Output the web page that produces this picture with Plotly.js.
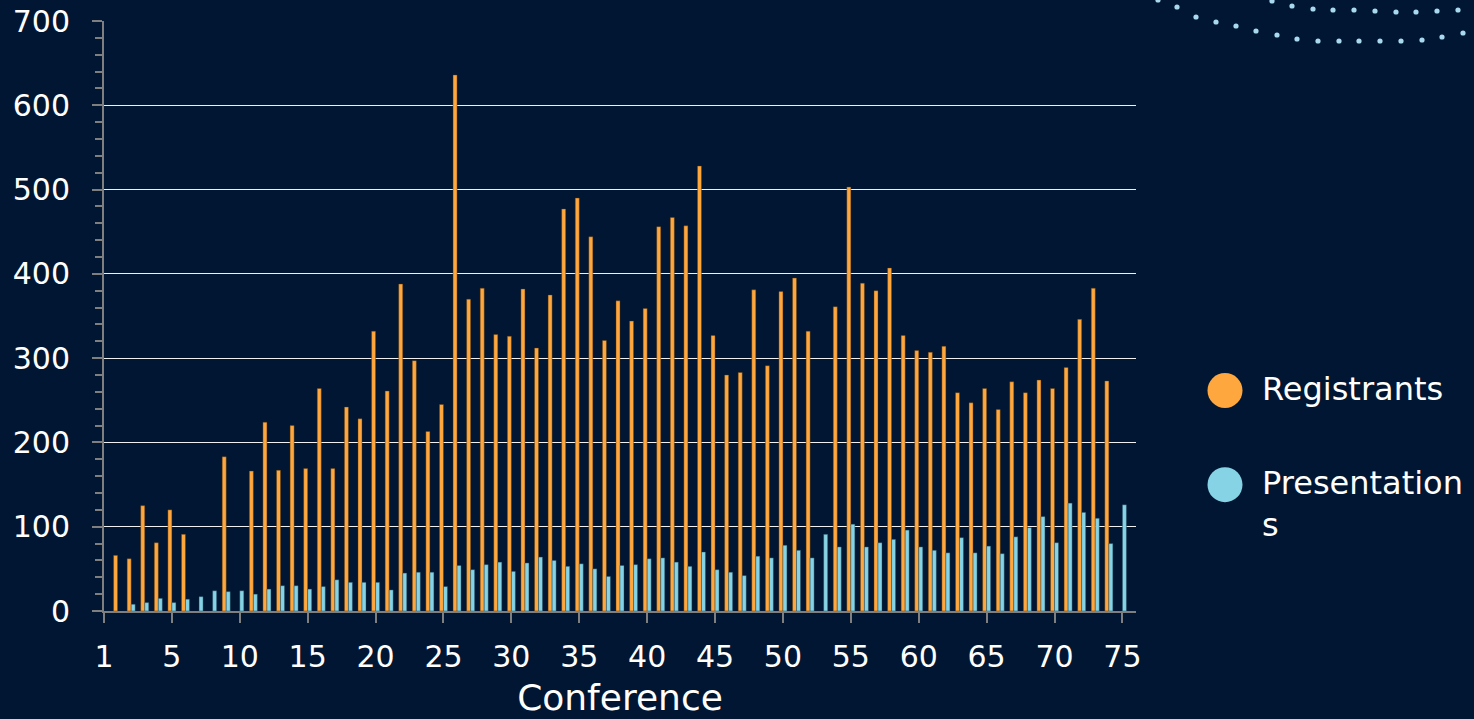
<!DOCTYPE html>
<html>
<head>
<meta charset="utf-8">
<script src="https://cdn.plot.ly/plotly-3.0.1.min.js"></script>
<style>
html,body{margin:0;padding:0;background:#011632;}
#chart{width:1474px;height:719px;}
</style>
</head>
<body>
<div id="chart"></div>
<script>
// ---------- data ----------
const conferences = [];
for (let i = 1; i <= 75; i++) conferences.push(i);

const registrants = [
  66, 62, 125, 81, 120, 91, null, null, 183, null,
  166, 224, 167, 220, 169, 264, 169, 242, 228, 332,
  261, 388, 297, 213, 245, 636, 370, 383, 328, 326,
  382, 312, 375, 477, 490, 444, 321, 368, 344, 359,
  456, 467, 457, 528, 327, 280, 283, 381, 291, 379,
  395, 332, null, 361, 503, 389, 380, 407, 327, 309,
  307, 314, 259, 247, 264, 239, 272, 259, 274, 264,
  289, 346, 383, 273, null
];

const presentations = [
  null, 8, 10, 15, 10, 14, 17, 24, 23, 24,
  20, 26, 30, 30, 26, 29, 37, 34, 34, 34,
  25, 45, 46, 46, 29, 54, 49, 55, 58, 47,
  57, 64, 60, 53, 56, 50, 41, 54, 55, 62,
  63, 58, 53, 70, 49, 46, 42, 65, 63, 78,
  72, 63, 91, 76, 103, 76, 81, 85, 96, 76,
  72, 69, 87, 69, 77, 68, 88, 99, 112, 81,
  128, 117, 110, 80, 126
];

const seriesNames = ['Registrants', 'Presentations'];
const legendLabels = ['Registrants', 'Presentation<br>s'];
const xTickVals = [0, 5, 10, 15, 20, 25, 30, 35, 40, 45, 50, 55, 60, 65, 70, 75];
const xTickText = ['1', '5', '10', '15', '20', '25', '30', '35', '40', '45', '50', '55', '60', '65', '70', '75'];
const yTickVals = [0, 100, 200, 300, 400, 500, 600, 700];
const xTitle = 'Conference';

// ---------- style ----------
const BG = '#011632';
const ORANGE = '#FDA73E';
const BLUE = '#86D3E5';
const AXIS = '#7f7f7f';
const FONT = '"DejaVu Sans", "Noto Sans", sans-serif';

// plot area in pixels (for paper conversions of decoration/legend)
const L = 104, R = 1136, T = 21, B = 611;
const px = x => (x - L) / (R - L);
const py = y => (B - y) / (B - T);

const traces = [
  {
    type: 'bar', name: seriesNames[0], x: conferences, y: registrants,
    marker: {color: ORANGE, line: {color: 'rgba(90,55,15,0.7)', width: 0.6}},
    showlegend: false, hoverinfo: 'x+y+name'
  },
  {
    type: 'bar', name: seriesNames[1], x: conferences, y: presentations,
    marker: {color: BLUE, line: {color: 'rgba(30,70,90,0.7)', width: 0.6}},
    showlegend: false, hoverinfo: 'x+y+name'
  }
];

// custom legend (large round swatches)
const shapes = [];
const annotations = [];
const legendRowsY = [390.5, 484.7];
const legendColors = [ORANGE, BLUE];
legendRowsY.forEach((yy, i) => {
  shapes.push({
    type: 'circle', xref: 'paper', yref: 'paper',
    xsizemode: 'pixel', ysizemode: 'pixel',
    xanchor: px(1225), yanchor: py(yy),
    x0: -17.5, x1: 17.5, y0: -17.5, y1: 17.5,
    fillcolor: legendColors[i], line: {width: 0}
  });
});
annotations.push({
  xref: 'paper', yref: 'paper', x: px(1260), y: py(389),
  xanchor: 'left', yanchor: 'middle', showarrow: false, align: 'left',
  text: legendLabels[0], font: {family: FONT, size: 32, color: '#ffffff'}
});
annotations.push({
  xref: 'paper', yref: 'paper', x: px(1260), y: py(504),
  xanchor: 'left', yanchor: 'middle', showarrow: false, align: 'left',
  text: legendLabels[1], font: {family: FONT, size: 32, color: '#ffffff'}
});

// decorative dotted arcs (top-right background ornament)
const decorDots = [
  [1158,0],[1177,7],[1196,17],[1216,22],[1236,26],[1256,31],[1277,35],[1297,39],
  [1318,41],[1339,41],[1359,41],[1380,41],[1401,41],[1422,40],[1442,37],[1463,33],
  [1272,1],[1292,6],[1313,9],[1333,10],[1354,10],[1375,11],[1396,12],[1416,12],
  [1437,11],[1458,10]
];
decorDots.forEach(d => {
  shapes.push({
    type: 'circle', xref: 'paper', yref: 'paper',
    xsizemode: 'pixel', ysizemode: 'pixel',
    xanchor: px(d[0]), yanchor: py(d[1]),
    x0: -2.6, x1: 2.6, y0: -2.6, y1: 2.6,
    fillcolor: '#a9d9ee', line: {width: 0}, layer: 'below'
  });
});

const layout = {
  width: 1474, height: 719,
  paper_bgcolor: BG, plot_bgcolor: BG,
  margin: {l: L, r: 1474 - R, t: T, b: 719 - B, pad: 0},
  barmode: 'group', bargap: 0.41, bargroupgap: 0,
  showlegend: false,
  font: {family: FONT, color: '#ffffff'},
  xaxis: {
    range: [0, 76], tickmode: 'array', tickvals: xTickVals, ticktext: xTickText,
    showgrid: false, zeroline: false,
    showline: true, linecolor: AXIS, linewidth: 2,
    ticks: 'outside', ticklen: 10, tickwidth: 2, tickcolor: AXIS,
    ticklabelstandoff: 8,
    tickfont: {family: FONT, size: 30, color: '#ffffff'},
    title: {text: xTitle, font: {family: FONT, size: 36, color: '#ffffff'}, standoff: 12},
    automargin: false, fixedrange: true
  },
  yaxis: {
    range: [0, 700], tickmode: 'array', tickvals: yTickVals,
    showgrid: true, gridcolor: '#f0f0f0', gridwidth: 1,
    zeroline: false,
    showline: true, linecolor: AXIS, linewidth: 2,
    ticks: 'outside', ticklen: 10, tickwidth: 2, tickcolor: AXIS,
    minor: {dtick: 20, tick0: 0, ticks: 'outside', ticklen: 7, tickwidth: 2, tickcolor: AXIS, showgrid: false},
    ticklabelstandoff: 16,
    tickfont: {family: FONT, size: 30, color: '#ffffff'},
    automargin: false, fixedrange: true
  },
  shapes: shapes,
  annotations: annotations
};

Plotly.newPlot('chart', traces, layout, {displayModeBar: false, staticPlot: true});
</script>
</body>
</html>
